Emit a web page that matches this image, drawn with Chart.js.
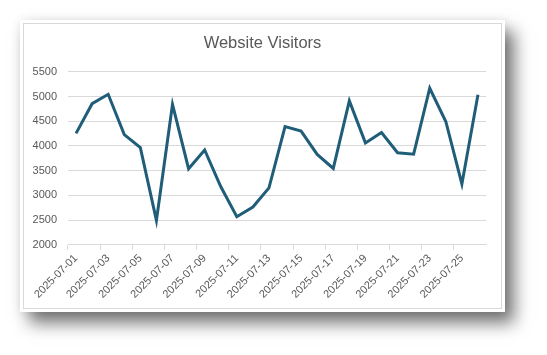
<!DOCTYPE html>
<html>
<head>
<meta charset="utf-8">
<script src="https://cdn.jsdelivr.net/npm/chart.js@4/dist/chart.umd.min.js"></script>
<style>
  html, body { margin: 0; padding: 0; background: #ffffff; width: 547px; height: 355px; overflow: hidden; }
  #card { position: absolute; left: 20px; top: 20px; width: 485px; height: 292px; background: #ffffff;
          box-shadow: 9px 11px 16px rgba(0,0,0,0.55), 0 0 10px rgba(0,0,0,0.08); }
  #inner { position: absolute; left: 3px; top: 3px; right: 3px; bottom: 3px; border: 1px solid #d9d9d9; }
  #wrap { position: absolute; left: 11px; top: 20px; width: 495px; height: 292px; }
</style>
</head>
<body>
<div id="card"><div id="inner"></div></div>
<div id="wrap"><canvas id="c" width="495" height="292"></canvas></div>
<script>
const categories = ["2025-07-01","2025-07-02","2025-07-03","2025-07-04","2025-07-05","2025-07-06","2025-07-07","2025-07-08","2025-07-09","2025-07-10","2025-07-11","2025-07-12","2025-07-13","2025-07-14","2025-07-15","2025-07-16","2025-07-17","2025-07-18","2025-07-19","2025-07-20","2025-07-21","2025-07-22","2025-07-23","2025-07-24","2025-07-25","2025-07-26"];
const visitors = [4255, 4855, 5045, 4230, 3965, 2495, 4840, 3540, 3920, 3180, 2570, 2766, 3152, 4393, 4300, 3830, 3547, 4912, 4062, 4271, 3862, 3835, 5167, 4495, 3232, 5035];
const yTicks = [2000, 2500, 3000, 3500, 4000, 4500, 5000, 5500];

const textColor = '#595959';
const gridColor = '#d9d9d9';

// shift the title so it is centred on the card rather than on the padded layout box
const titleShift = {
  id: 'titleShift',
  afterLayout(chart) {
    const tb = chart.titleBlock;
    if (tb) { tb.left += 4; tb.right += 4; }
  }
};

new Chart(document.getElementById('c'), {
  type: 'line',
  data: {
    labels: categories,
    datasets: [{
      label: 'Website Visitors',
      data: visitors,
      borderColor: '#1f5d79',
      borderWidth: 3,
      pointRadius: 0,
      tension: 0,
      fill: false
    }]
  },
  plugins: [titleShift],
  options: {
    responsive: false,
    animation: false,
    devicePixelRatio: 1,
    layout: { padding: { left: 20, right: 20, top: 0, bottom: 9 } },
    plugins: {
      legend: { display: false },
      tooltip: { enabled: false },
      title: {
        display: true,
        text: 'Website Visitors',
        color: textColor,
        font: { family: 'Liberation Sans', size: 16.5, weight: 'normal' },
        padding: { top: 14, bottom: 18 }
      }
    },
    scales: {
      x: {
        offset: true,
        afterFit: (axis) => { axis.paddingLeft = 0; axis.paddingRight = 0; },
        grid: {
          offset: true,
          drawOnChartArea: false,
          drawTicks: true,
          tickLength: 5,
          color: (ctx) => (ctx.index % 2 === 0 ? gridColor : 'rgba(0,0,0,0)')
        },
        border: { display: true, color: gridColor },
        ticks: {
          autoSkip: false,
          maxRotation: 45,
          minRotation: 45,
          padding: 2,
          color: textColor,
          font: { family: 'Liberation Sans', size: 11 },
          callback: function(value, index) { return index % 2 === 0 ? categories[index] : ''; }
        }
      },
      y: {
        min: yTicks[0],
        max: yTicks[yTicks.length - 1],
        afterBuildTicks: (axis) => { axis.ticks = yTicks.map(v => ({ value: v })); },
        afterFit: (axis) => { axis.width = 37; },
        grid: { color: gridColor, drawTicks: false },
        border: { display: false },
        ticks: {
          padding: 11,
          color: textColor,
          font: { family: 'Liberation Sans', size: 11 },
          callback: (v) => String(v)
        }
      }
    }
  }
});
</script>
</body>
</html>
